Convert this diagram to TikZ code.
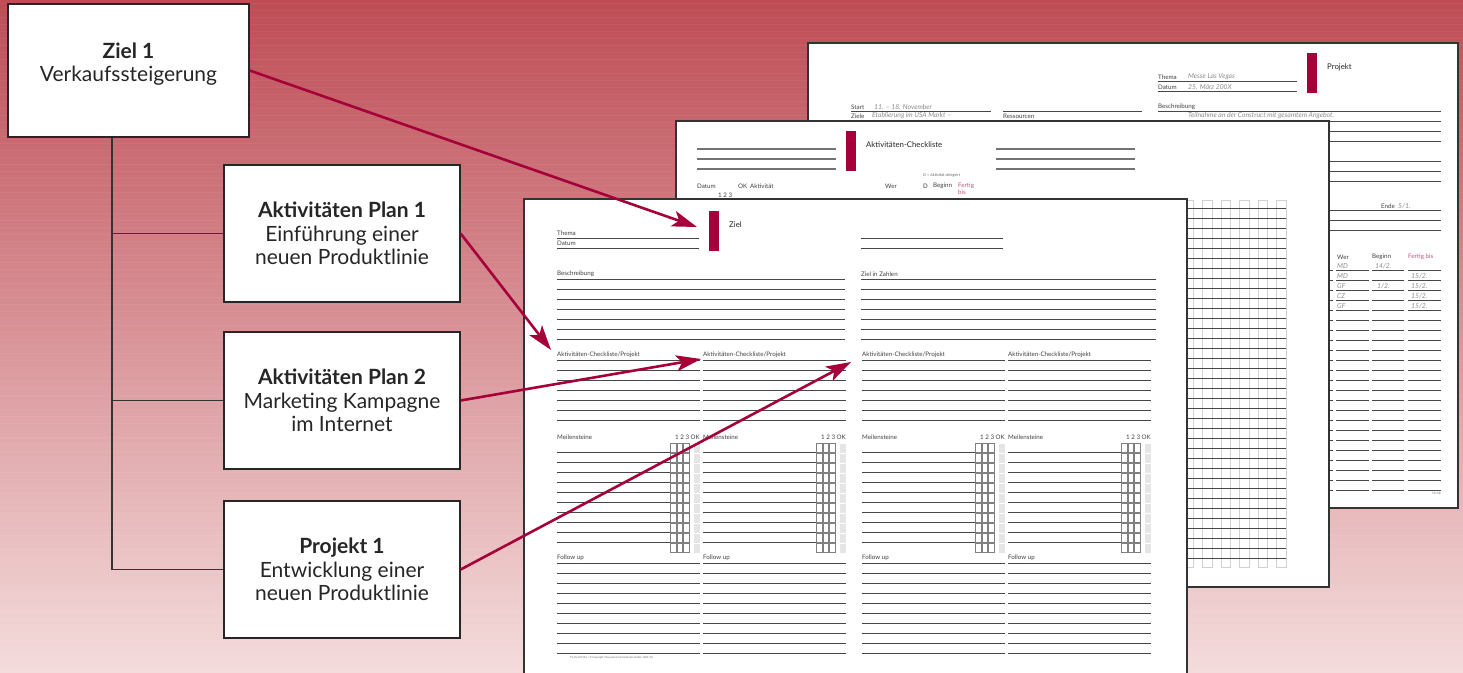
\documentclass[tikz,border=0pt]{standalone}
\usepackage{fontspec}
\setmainfont{Lato}
\usetikzlibrary{arrows.meta}
\definecolor{crim}{HTML}{A6003A}
\definecolor{pinkt}{HTML}{D4507A}
\definecolor{bgtop}{HTML}{BE4C55}
\definecolor{bgmid}{HTML}{D68587}
\definecolor{bgbot}{HTML}{F4DCDC}
\tikzset{
  box/.style={draw=black!85, line width=1.3pt, fill=white, minimum width=236pt, minimum height=137pt,
    inner sep=0pt, align=center, font=\fontsize{21}{23.3}\selectfont, text=black!85},
  btext/.style={inner sep=0pt, align=center, font=\fontsize{21}{23.3}\selectfont, text=black!85},
  treeline/.style={draw=black!80, line width=1.2pt},
  page/.style={draw=black!80, line width=1.2pt, fill=white},
  fl/.style={draw=black!72, line width=1pt},
  cb/.style={draw=black!50, line width=0.5pt},
  ft/.style={anchor=west, inner sep=0pt, font=\fontsize{6.2}{7}\selectfont, text=black!75},
  ph/.style={anchor=west, inner sep=0pt, font=\fontsize{7.8}{8}\selectfont, text=black!85},
  hw/.style={anchor=west, inner sep=0pt, font=\itshape\fontsize{6.8}{7}\selectfont, text=black!45},
  tiny/.style={anchor=west, inner sep=0pt, font=\fontsize{3}{3.5}\selectfont, text=black!60},
  arr/.style={draw=crim, line width=2.6pt, -{Stealth[length=25pt,width=16pt,inset=6pt]}}
}
\begin{document}
\begin{tikzpicture}[x=1pt,y=-1pt]
\useasboundingbox (0,0) rectangle (1463,672);
\clip (0,0) rectangle (1463,672);
% background
\shade[top color=bgtop, middle color=bgmid, bottom color=bgbot] (0,0) rectangle (1463,672);
\foreach \y in {3,10,...,670} \draw[white, opacity=0.05, line width=0.8pt] (0,\y) -- (1463,\y);

% ---------- boxes ----------
\node[box, minimum width=241pt, minimum height=133pt] (ziel) at (128.5,70.5) {};
\node[btext] (zielt) at (128.5,64) {{\bfseries Ziel 1}\\Verkaufssteigerung};
\node[box] (plan1) at (342,233.5) {{\bfseries Aktivitäten Plan 1}\\Einführung einer\\neuen Produktlinie};
\node[box] (plan2) at (342,400.5) {{\bfseries Aktivitäten Plan 2}\\Marketing Kampagne\\im Internet};
\node[box] (proj) at (342,569.5) {{\bfseries Projekt 1}\\Entwicklung einer\\neuen Produktlinie};
\coordinate (tx) at (112,0);
\draw[treeline] (ziel.south -| tx) |- (proj.west);
\draw[treeline] (ziel.south -| tx) |- (plan1.west);
\draw[treeline] (ziel.south -| tx) |- (plan2.west);

% ---------- back page (Projekt) ----------
\draw[page] (808,43) rectangle (1458,508);
\fill[crim] (1307,53) rectangle (1317,93);
\node[ph] (bp0) at (1327,67) {Projekt};
\node[ft] (bp1) at (1158,77) {Thema};
\node[hw] (bp2) at (1188,77) {Messe Las Vegas};
\draw[fl] (1158,81) -- (1297,81);
\node[ft] (bp3) at (1158,87) {Datum};
\node[hw] (bp4) at (1188,87) {25. März 200X};
\draw[fl] (1158,91) -- (1297,91);
\node[ft] (bp5) at (851,107) {Start};
\node[hw] (bp6) at (874,107) {11. – 18. November};
\draw[fl] (851,111) -- (991,111);
\node[ft] (bp7) at (851,116) {Ziele};
\node[hw] (bp8) at (872,116) {Etablierung im USA Markt –};
\draw[fl] (851,121) -- (991,121);
\node[ft] (bp9) at (1003,116) {Ressourcen};
\draw[fl] (1003,111) -- (1142,111);
\draw[fl] (1003,121) -- (1142,121);
\node[ft] (bp10) at (1158,107) {Beschreibung};
\node[hw] (bp11) at (1188,116) {Teilnahme an der Construct mit gesamtem Angebot.};
\foreach \y in {111,121,131,141,161,171,181,210,220,230} \draw[fl] (1158,\y) -- (1441,\y);
\node[ft] (bp12) at (1381,206) {Ende};
\node[hw] (bp13) at (1398,206) {5/1.};
\node[ft] (bp14) at (1337,257) {Wer};
\node[ft] (bp15) at (1372,257) {Beginn};
\node[ft, text=pinkt] (bp16) at (1408,257) {Fertig bis};
\foreach \y in {270,280,...,490} {
  \draw[fl] (1320,\y) -- (1333,\y);
  \draw[fl] (1336,\y) -- (1369,\y);
  \draw[fl] (1372,\y) -- (1404,\y);
  \draw[fl] (1408,\y) -- (1441,\y);
}
\node[hw] (e1a) at (1337,266) {MD};
\node[hw] (e1b) at (1375,266) {14/2.};
\node[hw] (e2a) at (1337,276) {MD};
\node[hw] (e2c) at (1411,276) {15/2.};
\node[hw] (e3a) at (1337,286) {GF};
\node[hw] (e3b) at (1377,286) {1/2.};
\node[hw] (e3c) at (1411,286) {15/2.};
\node[hw] (e4a) at (1337,296) {CZ};
\node[hw] (e4c) at (1411,296) {15/2.};
\node[hw] (e5a) at (1337,306) {GF};
\node[hw] (e5c) at (1411,306) {15/2.};
\node[tiny] (bp17) at (1432,493) {53/58};

% ---------- middle page (Aktivitaeten-Checkliste) ----------
\draw[page] (676,121) rectangle (1329,587);
\fill[crim] (846,131) rectangle (856,171);
\node[ph] (mp0) at (866,145) {Aktivitäten-Checkliste};
\foreach \y in {149,159,169} {
  \draw[fl, draw=black!55, line width=1.3pt] (697,\y) -- (836,\y);
  \draw[fl, draw=black!55, line width=1.3pt] (996,\y) -- (1135,\y);
}
\node[tiny, font=\fontsize{3.8}{4}\selectfont] (mp1) at (923,175) {D = Aktivität delegiert};
\node[ft] (mp2) at (697,186) {Datum};
\node[ft] (mp3) at (738,186) {OK};
\node[ft] (mp4) at (750,186) {Aktivität};
\node[ft] (mp5) at (885,186) {Wer};
\node[ft] (mp6) at (923,186) {D};
\node[ft] (mp7) at (933,186) {Beginn};
\node[ft, text=pinkt] (mp8) at (958,186) {Fertig};
\node[ft, text=pinkt] (mp9) at (958,192) {bis};
\node[ft] (mp10) at (718,195) {1 2 3};
\foreach \x in {1184,1202.5,1221,1239.5,1258,1276.5}
  \draw[draw=black!18, line width=0.8pt] (\x,200) rectangle (\x+9.5,567);
\foreach \y in {208,218,...,558} \draw[fl] (1180,\y) -- (1286,\y);

% ---------- front page (Ziel) ----------
\draw[page] (524,199) rectangle (1187,700);
\fill[crim] (709,211) rectangle (719,251);
\node[ph] (fp0) at (729,225) {Ziel};
\node[ft] (fp1) at (557,233) {Thema};
\draw[fl] (557,238) -- (699,238);
\node[ft] (fp2) at (557,243) {Datum};
\draw[fl] (557,248) -- (699,248);
\draw[fl] (861,238) -- (1003,238);
\draw[fl] (861,248) -- (1003,248);
\node[ft] (fp3) at (557,274) {Beschreibung};
\node[ft] (fp4) at (861,274) {Ziel in Zahlen};
\foreach \k in {0,...,6} {
  \draw[fl] (557,279+10*\k) -- (845,279+10*\k);
  \draw[fl] (861,279+10*\k) -- (1156,279+10*\k);
}
\foreach \cx [count=\c] in {557,703,862,1008} {
  \node[ft] (ac\c) at (\cx,355) {Aktivitäten-Checkliste/Projekt};
  \foreach \k in {0,...,6} \draw[fl] (\cx,360+10*\k) -- (\cx+143,360+10*\k);
  \node[ft] (ms\c) at (\cx,437) {Meilensteine};
  \node[ft, anchor=east] (ok\c) at (\cx+143,437) {1 2 3 OK};
  \foreach \k in {0,...,9} \draw[fl] (\cx,452+10*\k) -- (\cx+113,452+10*\k);
  \foreach \r in {0,...,10} {
    \foreach \b in {0,1,2} \draw[cb] (\cx+113.5+6.4*\b,443.5+10*\r) rectangle ++(5.6,9);
    \fill[black!10] (\cx+136.5,443.5+10*\r) rectangle ++(6,9);
  }
  \node[ft] (fu\c) at (\cx,558) {Follow up};
  \foreach \k in {0,...,9} \draw[fl] (\cx,563+10*\k) -- (\cx+143,563+10*\k);
}
\node[tiny, font=\fontsize{2.6}{3}\selectfont] (fp5) at (570,658) {TS-Part 87196 / © Copyright Timesystem International GmbH, 1980, 05.};

% ---------- arrows ----------
\coordinate (tipZ) at (697,227);
\coordinate (tipA) at (551,350);
\coordinate (tipB) at (701,359);
\coordinate (tipC) at (851,362);
\draw[arr] (ziel.east) -- (tipZ);
\draw[arr] (plan1.east) -- (tipA);
\draw[arr] (plan2.east) -- (tipB);
\draw[arr] (proj.east) -- (tipC);
\end{tikzpicture}
\end{document}
